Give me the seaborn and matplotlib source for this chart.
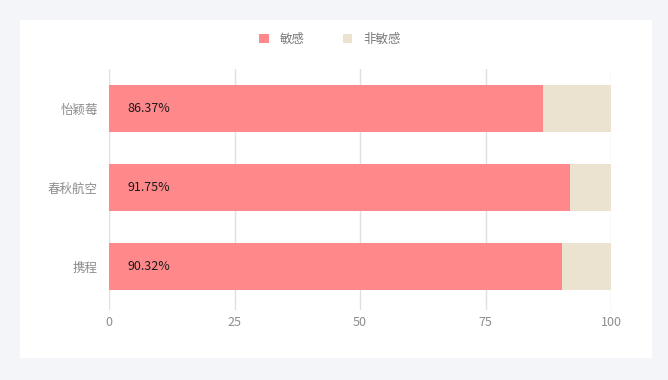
import matplotlib
matplotlib.use("Agg")
import matplotlib.pyplot as plt
import seaborn as sns
import pandas as pd
from matplotlib.patches import Patch

categories = ["怡颖莓", "春秋航空", "携程"]
sensitive = [86.37, 91.75, 90.32]
non_sensitive = [round(100 - v, 2) for v in sensitive]
series_names = ["敏感", "非敏感"]
xticks = [0, 25, 50, 75, 100]

pink = "#ff888b"
beige = "#ebe3cf"

sns.set_theme(style="white")
plt.rcParams['font.family'] = ['Noto Sans CJK SC', 'DejaVu Sans']

df = pd.DataFrame({"cat": categories, "sens": sensitive, "non": non_sensitive})
df["total"] = df["sens"] + df["non"]

W, H = 668, 380
fig = plt.figure(figsize=(W / 100, H / 100), dpi=100)
fig.patch.set_facecolor("#f4f5f9")
# white panel
fig.add_artist(plt.Rectangle((20 / W, 1 - 358 / H), 632 / W, 338 / H,
                             transform=fig.transFigure, facecolor="white",
                             edgecolor="none", zorder=0))

ax = fig.add_axes([109 / W, 1 - 310 / H, 502 / W, 241 / H])
ax.set_facecolor("none")

sns.barplot(data=df, x="total", y="cat", order=categories, color=beige,
            width=0.595, ax=ax, saturation=1, zorder=2, linewidth=0)
sns.barplot(data=df, x="sens", y="cat", order=categories, color=pink,
            width=0.595, ax=ax, saturation=1, zorder=3, linewidth=0)

ax.set_xlim(0, 100)
ax.set_ylim(2.55, -0.5)
ax.set_xticks(xticks)
ax.set_xticklabels([str(t) for t in xticks])
ax.set_xlabel("")
ax.set_ylabel("")
for s in ax.spines.values():
    s.set_visible(False)
ax.grid(axis="x", color="#e0e0e0", linewidth=1, zorder=1)
ax.set_axisbelow(True)
ax.tick_params(axis="both", length=0, colors="#8c8c8c", labelsize=9)
ax.tick_params(axis="x", pad=4)
ax.tick_params(axis="y", pad=8)

for i, v in enumerate(sensitive):
    ax.annotate(f"{v:.2f}%", xy=(0, i), xytext=(13, 0), textcoords="offset points",
                ha="left", va="center", fontsize=9, color="#1a1a1a", zorder=5)

handles = [Patch(facecolor=pink, edgecolor="none"), Patch(facecolor=beige, edgecolor="none")]
fig.legend(handles, series_names, loc="center", bbox_to_anchor=(330 / W, 1 - 39 / H),
           ncol=2, frameon=False, fontsize=9, handlelength=0.75, handleheight=0.75,
           handletextpad=0.9, columnspacing=3.0, labelcolor="#7a7a7a")

fig.savefig("out.png", dpi=100, facecolor=fig.get_facecolor())
